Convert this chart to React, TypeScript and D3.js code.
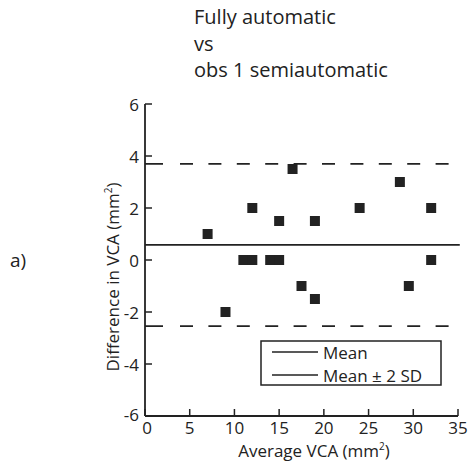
import React from "react";
import * as d3 from "d3";

// Average VCA (mm²) and difference in VCA (mm²) for each case
const avgVCA = [7, 9, 11, 12, 12, 14, 15, 15, 16.5, 17.5, 19, 19, 24, 28.5, 29.5, 32, 32];
const diffVCA = [1, -2, 0, 0, 2, 0, 0, 1.5, 3.5, -1, 1.5, -1.5, 2, 3, -1, 2, 0];

const meanDiff = 0.58;
const limits = [3.7, -2.54];

const xTicks = [0, 5, 10, 15, 20, 25, 30, 35];
const yTicks = [-6, -4, -2, 0, 2, 4, 6];
const titleLines = ["Fully automatic", "vs", "obs 1 semiautomatic"];
const legendLabels = ["Mean", "Mean \u00b1 2 SD"];

const W = 470;
const H = 469;
const FONT = "'Open Sans', sans-serif";
const INK = "#222";

export default function App() {
  const x = d3.scaleLinear().domain([0, 35]).range([145, 458]);
  const y = d3.scaleLinear().domain([-6, 6]).range([416, 104]);

  const dash = [18, 17];
  for (let i = 0; i < 12; i++) dash.push(13, 15.4);

  const sq = 10;

  return (
    <svg
      width={W}
      height={H}
      style={{ position: "absolute", left: 0, top: 0, background: "#fff" }}
      fontFamily={FONT}
    >
      {/* title */}
      {titleLines.map((t, i) => (
        <text key={t} x={194} y={24 + i * 26.5} fontSize={20} fill={INK}>
          {t}
        </text>
      ))}

      <text x={10} y={267} fontSize={19} fill={INK}>
        a)
      </text>

      {/* reference lines */}
      <line x1={x(0)} x2={x(35.2)} y1={y(meanDiff)} y2={y(meanDiff)} stroke={INK} strokeWidth={1.8} />
      {limits.map((v) => (
        <line
          key={v}
          x1={x(0)}
          x2={x(35.2)}
          y1={y(v)}
          y2={y(v)}
          stroke={INK}
          strokeWidth={1.8}
          strokeDasharray={dash.join(",")}
        />
      ))}

      {/* points */}
      {avgVCA.map((a, i) => (
        <rect
          key={i}
          x={x(a) - sq / 2}
          y={y(diffVCA[i]) - sq / 2}
          width={sq}
          height={sq}
          fill={INK}
        />
      ))}

      {/* axes */}
      <line x1={x(0)} x2={x(0)} y1={y(6)} y2={y(-6)} stroke={INK} strokeWidth={1.8} />
      <line x1={x(0)} x2={x(35)} y1={y(-6)} y2={y(-6)} stroke={INK} strokeWidth={1.8} />
      {yTicks.map((t) => (
        <g key={t}>
          <line x1={x(0)} x2={x(0) + 7} y1={y(t)} y2={y(t)} stroke={INK} strokeWidth={1.5} />
          <text
            x={139}
            y={y(t) + (t === -6 ? -2 : 0)}
            fontSize={17}
            textAnchor="end"
            dominantBaseline="central"
            fill={INK}
          >
            {t}
          </text>
        </g>
      ))}
      {xTicks.map((t) => (
        <g key={t}>
          <line x1={x(t)} x2={x(t)} y1={y(-6)} y2={y(-6) - 7} stroke={INK} strokeWidth={1.5} />
          <text x={x(t) + (t === 0 ? 2 : 0)} y={434} fontSize={17} textAnchor="middle" fill={INK}>
            {t}
          </text>
        </g>
      ))}

      {/* axis labels */}
      <text x={314} y={457} fontSize={17} textAnchor="middle" fill={INK}>
        Average VCA (mm<tspan fontSize={10} dy={-7}>2</tspan>
        <tspan dy={7}>)</tspan>
      </text>
      <text
        transform={`translate(119, 277) rotate(-90)`}
        fontSize={17}
        textAnchor="middle"
        fill={INK}
      >
        Difference in VCA (mm<tspan fontSize={10} dy={-7}>2</tspan>
        <tspan dy={7}>)</tspan>
      </text>

      {/* legend */}
      <rect x={261} y={341} width={180} height={44} fill="#fff" stroke={INK} strokeWidth={1.5} />
      {legendLabels.map((l, i) => (
        <g key={l}>
          <line x1={272} x2={318} y1={352 + i * 23} y2={352 + i * 23} stroke={INK} strokeWidth={1.5} />
          <text x={323} y={352 + i * 23} fontSize={17} dominantBaseline="central" fill={INK}>
            {l}
          </text>
        </g>
      ))}
    </svg>
  );
}
